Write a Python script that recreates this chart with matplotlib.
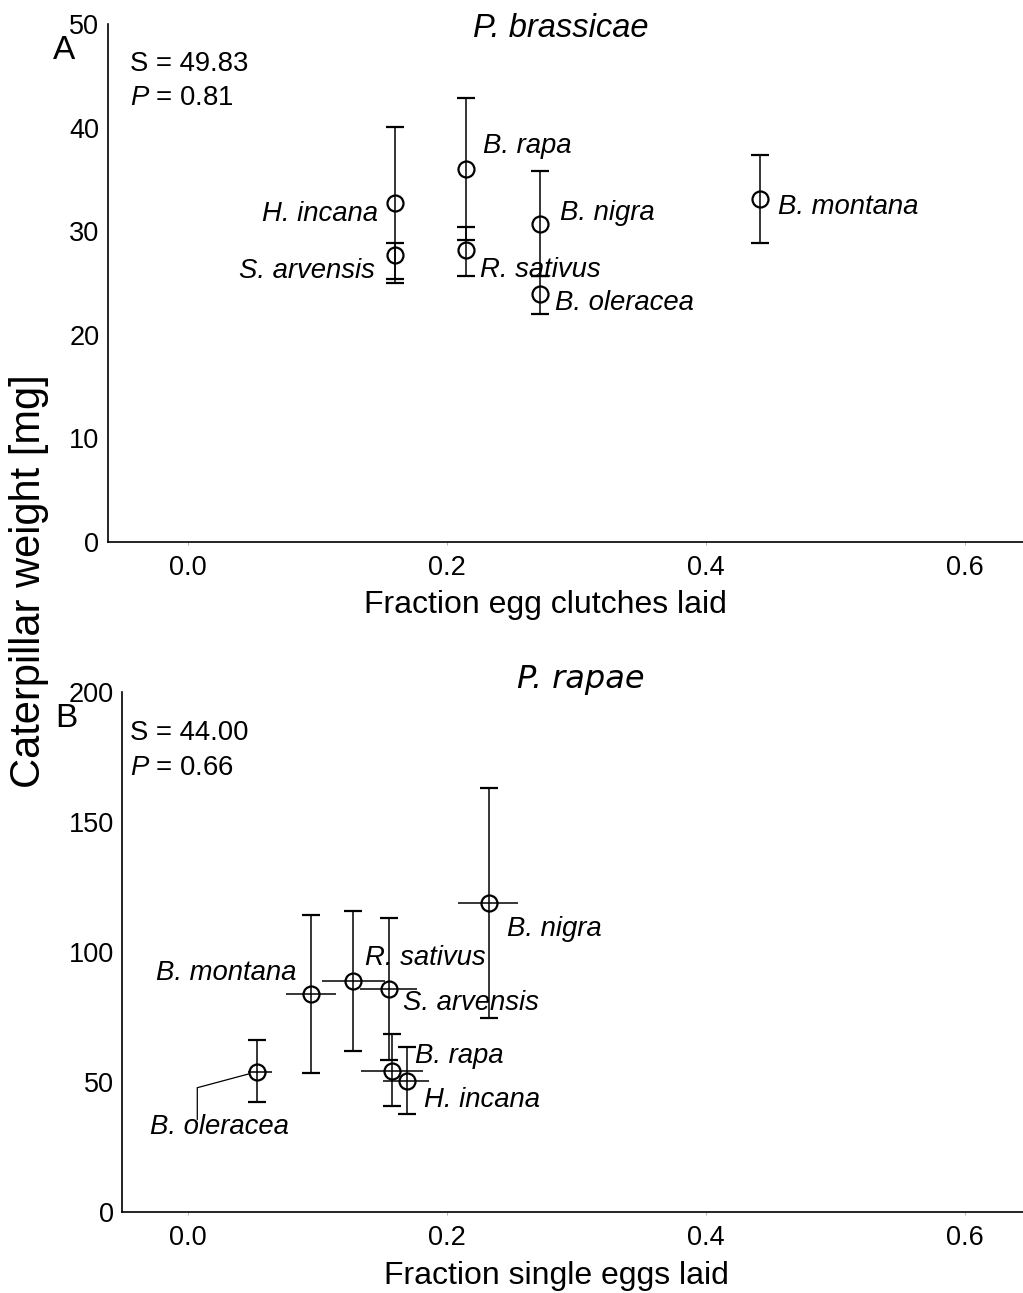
import numpy as np
import matplotlib
matplotlib.use("Agg")
import matplotlib.pyplot as plt

plt.rcParams['font.family'] = ['Liberation Sans', 'DejaVu Sans']
plt.rcParams['mathtext.fontset'] = 'custom'
plt.rcParams['mathtext.rm'] = 'Liberation Sans'
plt.rcParams['mathtext.it'] = 'Liberation Sans:italic'

# panel A - P. brassicae
species_a = ["H. incana", "S. arvensis", "B. rapa", "R. sativus", "B. nigra", "B. oleracea", "B. montana"]
clutch_frac = [0.160, 0.160, 0.215, 0.215, 0.272, 0.272, 0.442]
weight_a = [32.75, 27.73, 36.04, 28.14, 30.72, 23.96, 33.11]
weight_a_lo = [25.41, 25.02, 29.11, 25.63, 25.63, 22.03, 28.86]
weight_a_hi = [40.10, 28.89, 42.87, 30.37, 35.78, 25.63, 37.39]

# panel B - P. rapae
species_b = ["B. oleracea", "B. montana", "R. sativus", "S. arvensis", "B. rapa", "H. incana", "B. nigra"]
single_frac = [0.0537, 0.0949, 0.1278, 0.1556, 0.1579, 0.1690, 0.2323]
single_lo = [0.0468, 0.0756, 0.1034, 0.1330, 0.1338, 0.1510, 0.2089]
single_hi = [0.0648, 0.1145, 0.1523, 0.1772, 0.1819, 0.1865, 0.2552]
weight_b = [54.1, 83.9, 89.0, 85.9, 54.5, 50.5, 118.9]
weight_b_lo = [42.3, 53.7, 62.2, 58.6, 40.9, 37.7, 74.9]
weight_b_hi = [66.3, 114.4, 115.9, 113.1, 68.5, 63.7, 163.1]

x_ticks = [0.0, 0.2, 0.4, 0.6]

# label offsets in points (dx, dy, ha)
offs_a = {"H. incana": (-12.0, -13.5, 'right'), "S. arvensis": (-14.4, -16.8, 'right'),
          "B. rapa": (12.0, 11.3, 'left'), "R. sativus": (10.1, -19.2, 'left'),
          "B. nigra": (14.4, 2.9, 'left'), "B. oleracea": (11.0, -12.0, 'left'),
          "B. montana": (12.5, -10.6, 'left')}
offs_b = {"B. montana": (-10.1, 10.3, 'right'), "R. sativus": (8.4, 11.5, 'left'),
          "S. arvensis": (10.1, -15.1, 'left'), "B. rapa": (16.3, 5.8, 'left'),
          "H. incana": (12.7, -18.9, 'left'), "B. nigra": (13.4, -23.3, 'left'),
          "B. oleracea": (-77.3, -44.9, 'left')}

W, H = 1023, 1293
fig = plt.figure(figsize=(W / 100, H / 100), dpi=100)
ax1 = fig.add_axes([107.7 / W, 1 - 542 / H, 1 - 107.7 / W, 518 / H])
ax2 = fig.add_axes([122.3 / W, 1 - 1212.3 / H, 1 - 122.3 / W, 520 / H])

mk = dict(fmt='o', mfc='none', mec='black', ms=11.5, mew=1.6, ecolor='black',
          elinewidth=1.1, capthick=1.1, capsize=6.7, color='black')


def style(ax, ylim, yticks):
    ax.set_ylim(*ylim)
    ax.set_yticks(yticks)
    ax.set_xticks(x_ticks)
    ax.set_xticklabels(["%.1f" % t for t in x_ticks])
    for s in ['top', 'right']:
        ax.spines[s].set_visible(False)
    for s in ['left', 'bottom']:
        ax.spines[s].set_linewidth(1.2)
    ax.tick_params(axis='x', length=2, width=0.5, color='#999999', pad=7.3, labelsize=19.5)
    ax.tick_params(axis='y', length=0, pad=6, labelsize=19.5)


# panel A
a_lo = np.array(weight_a) - np.array(weight_a_lo)
a_hi = np.array(weight_a_hi) - np.array(weight_a)
ax1.errorbar(clutch_frac, weight_a, yerr=[a_lo, a_hi], linestyle='none', **mk)
for name, x, y in zip(species_a, clutch_frac, weight_a):
    dx, dy, ha = offs_a[name]
    ax1.annotate(name, (x, y), xytext=(dx, dy), textcoords='offset points',
                 ha=ha, va='baseline', fontsize=19.8, style='italic')
ax1.set_xlim(-0.0618, 0.6448)
style(ax1, (0, 50), [0, 10, 20, 30, 40, 50])
ax1.text(0.0244, 0.9099, "S = 49.83", transform=ax1.transAxes, fontsize=19.8, va='baseline')
ax1.text(0.0244, 0.8436, "$P$ = 0.81", transform=ax1.transAxes, fontsize=19.8, va='baseline')

# panel B
b_lo = np.array(weight_b) - np.array(weight_b_lo)
b_hi = np.array(weight_b_hi) - np.array(weight_b)
bx_lo = np.array(single_frac) - np.array(single_lo)
bx_hi = np.array(single_hi) - np.array(single_frac)
ax2.errorbar(single_frac, weight_b, xerr=[bx_lo, bx_hi], linestyle='none',
             fmt='none', ecolor='black', elinewidth=1.1, capsize=0)
ax2.errorbar(single_frac, weight_b, yerr=[b_lo, b_hi], linestyle='none', **mk)
for name, x, y in zip(species_b, single_frac, weight_b):
    dx, dy, ha = offs_b[name]
    ax2.annotate(name, (x, y), xytext=(dx, dy), textcoords='offset points',
                 ha=ha, va='baseline', fontsize=19.8, style='italic')
# leader line for B. oleracea
ax2.annotate("", (single_frac[0], weight_b[0]), xytext=(-43.2, -34.5), textcoords='offset points',
             arrowprops=dict(arrowstyle='-', connectionstyle='angle,angleA=90,angleB=15,rad=0',
                             shrinkA=0, shrinkB=6, lw=0.9, color='black'))
ax2.set_xlim(-0.0505, 0.6448)
style(ax2, (0, 200), [0, 50, 100, 150, 200])
ax2.text(0.0086, 0.9083, "S = 44.00", transform=ax2.transAxes, fontsize=19.8, va='baseline')
ax2.text(0.0086, 0.841, "$P$ = 0.66", transform=ax2.transAxes, fontsize=19.8, va='baseline')

# titles, labels
fig.text(561 / W, 1 - 36.7 / H, "P. brassicae", ha='center', va='baseline', fontsize=23.5, style='italic')
fig.text(580.5 / W, 1 - 688.3 / H, "P. rapae", ha='center', va='baseline', fontsize=23,
         style='italic', family='DejaVu Sans')
fig.text(53.3 / W, 1 - 59.3 / H, "A", fontsize=24, va='baseline')
fig.text(55 / W, 1 - 726.7 / H, "B", fontsize=24, va='baseline')
fig.text(545 / W, 1 - 613 / H, "Fraction egg clutches laid", ha='center', va='baseline', fontsize=23)
fig.text(556 / W, 1 - 1284 / H, "Fraction single eggs laid", ha='center', va='baseline', fontsize=23)
fig.text(28.6 / W, 1 - 581 / H, "Caterpillar weight [mg]", rotation=90, ha='center', va='center', fontsize=30)

fig.savefig("out.png", dpi=100)
